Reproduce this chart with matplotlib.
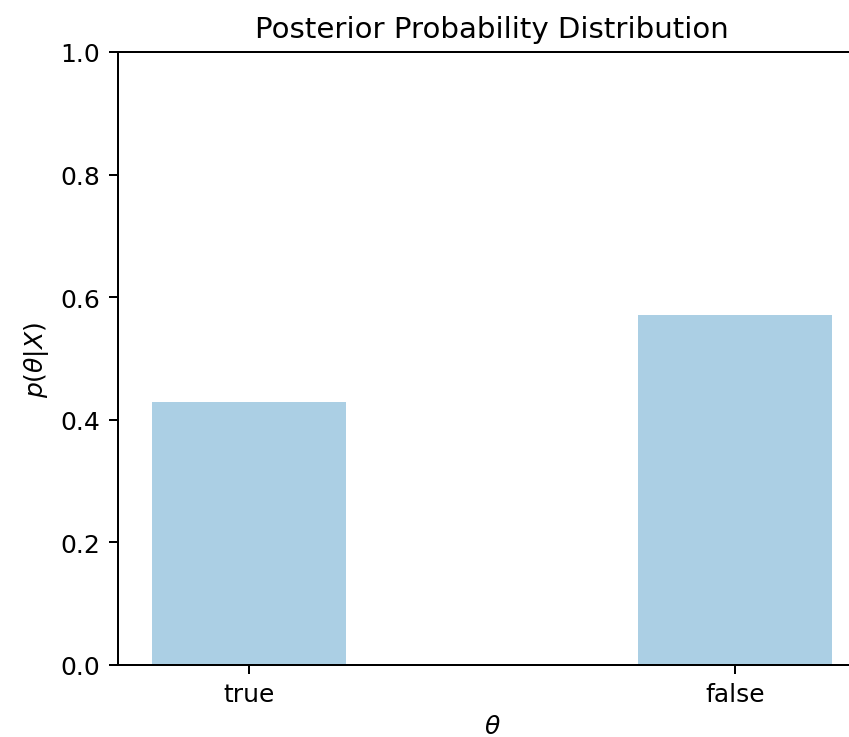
import matplotlib
matplotlib.use("Agg")
import matplotlib.pyplot as plt

categories = ["true", "false"]
probabilities = [0.4286, 0.5714]

DPI = 180
fig = plt.figure(figsize=(849 / DPI, 738 / DPI), dpi=DPI)
ax = fig.add_axes([118 / 849, 72 / 738, (866 - 118) / 849, (666 - 53) / 738])
x = list(range(len(categories)))
ax.bar(x, probabilities, width=0.4, color="#abcfe4")
ax.set_xticks(x)
ax.set_xticklabels(categories)
ax.set_ylim(0, 1.0)
ax.set_title("Posterior Probability Distribution", fontsize=11.7)
ax.set_xlabel(r"$\theta$", labelpad=3)
ax.set_ylabel(r"$p(\theta|X)$")
fig.savefig("out.png", dpi=DPI)
